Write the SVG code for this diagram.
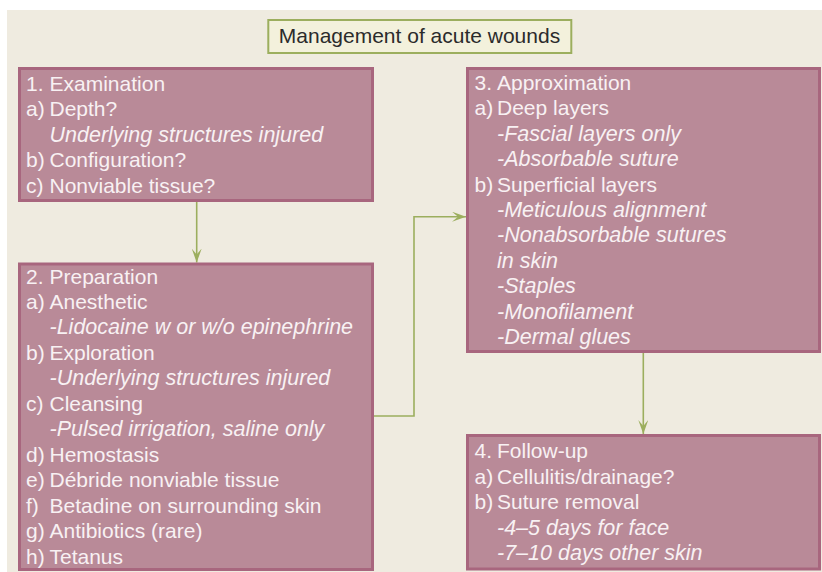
<svg xmlns="http://www.w3.org/2000/svg" width="822" height="572" viewBox="0 0 822 572">
<style>
.bg{fill:#efebe0}
.box{fill:#b98a98;stroke:#a8667e;stroke-width:3}
.title{fill:#f3f1dc;stroke:#9cae5e;stroke-width:2}
.tt{font-family:"Liberation Sans",Arial,sans-serif;font-size:21px;fill:#2b2b2b}
.t{font-family:"Liberation Sans",Arial,sans-serif;font-size:21px;fill:#f8f1f3}
.i{font-style:italic;font-size:21.5px}
.con{fill:none;stroke:#9cae5e;stroke-width:1.6}
</style>
<defs>
<marker id="ah" viewBox="0 0 14 10" refX="14" refY="5" markerWidth="14" markerHeight="10" markerUnits="userSpaceOnUse" orient="auto">
<path d="M0,0 L14,5 L0,10 L6,5 Z" fill="#9cae5e"/>
</marker>
</defs>
<rect class="bg" x="7" y="10" width="815" height="562"/>
<g id="title">
<rect class="title" x="268.3" y="20" width="303" height="33"/>
<text class="tt" x="419.5" y="43" text-anchor="middle">Management of acute wounds</text>
</g>
<g id="connectors">
<path class="con" d="M196.7,202 L196.7,262.5" marker-end="url(#ah)"/>
<path class="con" d="M374,416 L414,416 L414,216.7 L466,216.7" marker-end="url(#ah)"/>
<path class="con" d="M643.3,353 L643.3,434" marker-end="url(#ah)"/>
</g>
<g id="examination">
<rect class="box" x="19.5" y="68.5" width="353" height="132"/>
<text class="t"><tspan x="26" y="90.7">1.</tspan><tspan x="49.5">Examination</tspan></text>
<text class="t"><tspan x="26" y="116.1">a)</tspan><tspan x="49.5">Depth?</tspan></text>
<text class="t i" x="49.5" y="141.6">Underlying structures injured</text>
<text class="t"><tspan x="26" y="167">b)</tspan><tspan x="49.5">Configuration?</tspan></text>
<text class="t"><tspan x="26" y="192.5">c)</tspan><tspan x="49.5">Nonviable tissue?</tspan></text>
</g>
<g id="preparation">
<rect class="box" x="19.5" y="264" width="353" height="305.5"/>
<text class="t"><tspan x="26" y="283.5">2.</tspan><tspan x="49.5">Preparation</tspan></text>
<text class="t"><tspan x="26" y="309">a)</tspan><tspan x="49.5">Anesthetic</tspan></text>
<text class="t i" x="49.5" y="334.4">-Lidocaine w or w/o epinephrine</text>
<text class="t"><tspan x="26" y="359.9">b)</tspan><tspan x="49.5">Exploration</tspan></text>
<text class="t i" x="49.5" y="385.3">-Underlying structures injured</text>
<text class="t"><tspan x="26" y="410.8">c)</tspan><tspan x="49.5">Cleansing</tspan></text>
<text class="t i" x="49.5" y="436.2">-Pulsed irrigation, saline only</text>
<text class="t"><tspan x="26" y="461.7">d)</tspan><tspan x="49.5">Hemostasis</tspan></text>
<text class="t"><tspan x="26" y="487.1">e)</tspan><tspan x="49.5">Débride nonviable tissue</tspan></text>
<text class="t"><tspan x="26" y="512.6">f)</tspan><tspan x="49.5">Betadine on surrounding skin</tspan></text>
<text class="t"><tspan x="26" y="538">g)</tspan><tspan x="49.5">Antibiotics (rare)</tspan></text>
<text class="t"><tspan x="26" y="563.5">h)</tspan><tspan x="49.5">Tetanus</tspan></text>
</g>
<g id="approximation">
<rect class="box" x="467.5" y="68.5" width="352" height="283"/>
<text class="t"><tspan x="474.5" y="90">3.</tspan><tspan x="497">Approximation</tspan></text>
<text class="t"><tspan x="474.5" y="115.4">a)</tspan><tspan x="497">Deep layers</tspan></text>
<text class="t i" x="497" y="140.8">-Fascial layers only</text>
<text class="t i" x="497" y="166.2">-Absorbable suture</text>
<text class="t"><tspan x="474.5" y="191.6">b)</tspan><tspan x="497">Superficial layers</tspan></text>
<text class="t i" x="497" y="217">-Meticulous alignment</text>
<text class="t i" x="497" y="242.4">-Nonabsorbable sutures</text>
<text class="t i" x="497" y="267.8">in skin</text>
<text class="t i" x="497" y="293.2">-Staples</text>
<text class="t i" x="497" y="318.6">-Monofilament</text>
<text class="t i" x="497" y="344">-Dermal glues</text>
</g>
<g id="followup">
<rect class="box" x="467.5" y="435.5" width="352" height="133.5"/>
<text class="t"><tspan x="474.5" y="458.3">4.</tspan><tspan x="497">Follow-up</tspan></text>
<text class="t"><tspan x="474.5" y="483.5">a)</tspan><tspan x="497">Cellulitis/drainage?</tspan></text>
<text class="t"><tspan x="474.5" y="509">b)</tspan><tspan x="497">Suture removal</tspan></text>
<text class="t i" x="497" y="534.5">-4–5 days for face</text>
<text class="t i" x="497" y="560">-7–10 days other skin</text>
</g>
</svg>
